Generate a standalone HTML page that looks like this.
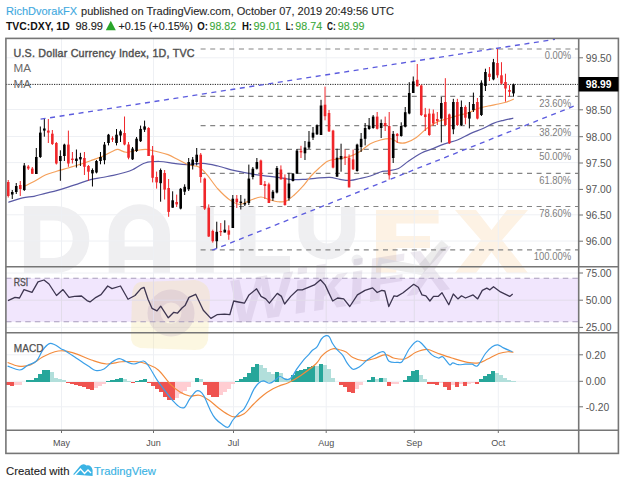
<!DOCTYPE html>
<html><head><meta charset="utf-8"><style>
html,body{margin:0;padding:0;background:#fff;}
body{width:624px;height:486px;overflow:hidden;position:relative;font-family:"Liberation Sans",sans-serif;}
svg{position:absolute;left:0;top:0;}
</style></head><body>
<svg width="624" height="486" viewBox="0 0 624 486" font-family="Liberation Sans, sans-serif">

<g font-size="10.5" stroke-width="0.12">
<text x="6" y="14.7" stroke="#3fa9e0" fill="#3fa9e0" textLength="71" lengthAdjust="spacingAndGlyphs">RichDvorakFX</text>
<text x="81" y="14.7" fill="#2a2a2a" stroke="#2a2a2a" textLength="313" lengthAdjust="spacingAndGlyphs">published on TradingView.com, October 07, 2019 20:49:56 UTC</text>
</g>
<g font-size="10.5">
<text x="6" y="30" fill="#111" font-weight="bold" textLength="63.7" lengthAdjust="spacingAndGlyphs">TVC:DXY, 1D</text>
<text x="75.4" y="30" fill="#222" stroke="#222" stroke-width="0.12" textLength="27.6" lengthAdjust="spacingAndGlyphs">98.99</text>
<path d="M105.8 30.2 L110.8 20.8 L115.8 30.2 Z" fill="#2aa52a"/>
<text x="118.5" y="30" fill="#222" stroke="#222" stroke-width="0.12" textLength="74.3" lengthAdjust="spacingAndGlyphs">+0.15 (+0.15%)</text>
<text x="197.2" y="30" fill="#111" font-weight="bold" textLength="10.7" lengthAdjust="spacingAndGlyphs">O:</text>
<text x="209.6" y="30" fill="#3aa83a" stroke="#3aa83a" stroke-width="0.1" textLength="26.5" lengthAdjust="spacingAndGlyphs">98.82</text>
<text x="241.9" y="30" fill="#111" font-weight="bold" textLength="10.1" lengthAdjust="spacingAndGlyphs">H:</text>
<text x="253.5" y="30" fill="#3aa83a" stroke="#3aa83a" stroke-width="0.1" textLength="27.4" lengthAdjust="spacingAndGlyphs">99.01</text>
<text x="285.8" y="30" fill="#111" font-weight="bold" textLength="7.5" lengthAdjust="spacingAndGlyphs">L:</text>
<text x="295.3" y="30" fill="#3aa83a" stroke="#3aa83a" stroke-width="0.1" textLength="26.8" lengthAdjust="spacingAndGlyphs">98.74</text>
<text x="327" y="30" fill="#111" font-weight="bold" textLength="8.7" lengthAdjust="spacingAndGlyphs">C:</text>
<text x="337.7" y="30" fill="#3aa83a" stroke="#3aa83a" stroke-width="0.1" textLength="26.8" lengthAdjust="spacingAndGlyphs">98.99</text>
</g>

<g fill="#efeff1">
<path fill-rule="evenodd" d="M23.9 205.9 H56 A33.3 33.5 0 0 1 56 272.9 H23.9 Z M40.25 220.4 H54 A18.7 18.8 0 0 1 54 258 H40.25 Z"/>
<path fill-rule="evenodd" d="M108.7 273 V235 A30.65 30.65 0 0 1 170 235 V273 Z M124.6 246.5 V233.4 A14.4 14.4 0 0 1 153.4 233.4 V246.5 Z M124.6 260 V273 H153.4 V260 Z"/>
<rect x="195.9" y="206" width="17.9" height="67"/>
<path d="M240.3 206 H255.5 V256 H290 V273 H240.3 Z"/>
<path fill-rule="evenodd" d="M298.4 207 H313.7 V230 A13.6 13.6 0 0 0 340.9 230 V207 H355.3 V231 A28.45 28.45 0 0 1 298.4 231 Z"/>
<circle cx="357" cy="260" r="5.5"/>
</g>
<g fill="#fdf2e4">
<path d="M376 210 H438.6 V223.6 H396.3 V236 H430 V248 H396.3 V273 H376 Z"/>
<path d="M455 210 H476 L491.5 230 L507 210 H528 L502 240 L528 273 H507 L491.5 252 L476 273 H455 L481 240 Z"/>
</g>
<path d="M378 262 L420 270 L445 243" fill="none" stroke="#ececec" stroke-width="9"/>

<g stroke="#eef0f4" stroke-width="1">
<line x1="6" y1="57.8" x2="578" y2="57.8"/>
<line x1="6" y1="109.5" x2="578" y2="109.5"/>
<line x1="6" y1="136.5" x2="578" y2="136.5"/>
<line x1="6" y1="162.6" x2="578" y2="162.6"/>
<line x1="6" y1="189.4" x2="578" y2="189.4"/>
<line x1="6" y1="214.8" x2="578" y2="214.8"/>
<line x1="6" y1="241" x2="578" y2="241"/>
<line x1="6" y1="273" x2="578" y2="273"/>
<line x1="6" y1="300.2" x2="578" y2="300.2"/>
<line x1="6" y1="327.4" x2="578" y2="327.4"/>
<line x1="6" y1="354.8" x2="578" y2="354.8"/>
<line x1="6" y1="381.3" x2="578" y2="381.3"/>
<line x1="6" y1="406.8" x2="578" y2="406.8"/>
<line x1="61.5" y1="39" x2="61.5" y2="430"/>
<line x1="153.5" y1="39" x2="153.5" y2="430"/>
<line x1="233.5" y1="39" x2="233.5" y2="430"/>
<line x1="326.2" y1="39" x2="326.2" y2="430"/>
<line x1="414.3" y1="39" x2="414.3" y2="430"/>
<line x1="498.3" y1="39" x2="498.3" y2="430"/>
</g>
<rect x="6" y="278.3" width="572" height="43.5" fill="#f1e6fd"/>
<path d="M140 282 L195 280 Q210 282 210 298 L208 340 Q206 350 195 350 L140 348 Q130 346 131 335 L132 295 Q133 283 140 282 Z" fill="#f6e39a" opacity="0.3"/>
<circle cx="171" cy="313" r="17" fill="none" stroke="#8a6aa8" stroke-width="13" opacity="0.15"/>
<text x="0" y="0" transform="translate(232 324) rotate(-9)" font-size="62" font-weight="bold" font-style="italic" fill="#7a6090" opacity="0.13" textLength="225" lengthAdjust="spacingAndGlyphs">WikiFX</text>
<line x1="6" y1="300.2" x2="578" y2="300.2" stroke="#e2dcea" stroke-width="1"/>
<line x1="61.5" y1="278.3" x2="61.5" y2="321.8" stroke="#e2dcea" stroke-width="1"/>
<line x1="153.5" y1="278.3" x2="153.5" y2="321.8" stroke="#e2dcea" stroke-width="1"/>
<line x1="233.5" y1="278.3" x2="233.5" y2="321.8" stroke="#e2dcea" stroke-width="1"/>
<line x1="326.2" y1="278.3" x2="326.2" y2="321.8" stroke="#e2dcea" stroke-width="1"/>
<line x1="414.3" y1="278.3" x2="414.3" y2="321.8" stroke="#e2dcea" stroke-width="1"/>
<line x1="498.3" y1="278.3" x2="498.3" y2="321.8" stroke="#e2dcea" stroke-width="1"/>
<g stroke="#a99dbd" stroke-width="1.1" stroke-dasharray="5.5 4.1">
<line x1="6" y1="278.3" x2="578" y2="278.3"/><line x1="6" y1="321.8" x2="578" y2="321.8"/>
</g>
<g stroke="#858585" stroke-width="1.2" stroke-dasharray="5 4.6">
<line x1="200.6" y1="49" x2="578" y2="49"/>
<line x1="200.6" y1="96.4" x2="578" y2="96.4"/>
<line x1="200.6" y1="125.6" x2="578" y2="125.6"/>
<line x1="200.6" y1="149.4" x2="578" y2="149.4"/>
<line x1="200.6" y1="173.3" x2="578" y2="173.3"/>
<line x1="200.6" y1="206.5" x2="578" y2="206.5"/>
<line x1="200.6" y1="249.8" x2="578" y2="249.8"/>
</g>
<g font-size="10.5" fill="#808080">
<text x="544.7" y="59.4" textLength="26.5" lengthAdjust="spacingAndGlyphs">0.00%</text>
<text x="539.2" y="106.80000000000001" textLength="32" lengthAdjust="spacingAndGlyphs">23.60%</text>
<text x="539.2" y="136.0" textLength="32" lengthAdjust="spacingAndGlyphs">38.20%</text>
<text x="539.2" y="159.8" textLength="32" lengthAdjust="spacingAndGlyphs">50.00%</text>
<text x="539.2" y="183.70000000000002" textLength="32" lengthAdjust="spacingAndGlyphs">61.80%</text>
<text x="539.2" y="216.9" textLength="32" lengthAdjust="spacingAndGlyphs">78.60%</text>
<text x="533.7" y="260.2" textLength="37.5" lengthAdjust="spacingAndGlyphs">100.00%</text>
</g>
<line x1="6" y1="84.4" x2="578" y2="84.4" stroke="#222" stroke-width="1" stroke-dasharray="1.2 1.2"/>
<path d="M8.40 202.40 C10.77 201.63 18.33 198.82 22.60 197.80 C26.87 196.78 30.22 197.05 34.00 196.30 C37.78 195.55 41.53 194.25 45.30 193.30 C49.07 192.35 52.82 191.62 56.60 190.60 C60.38 189.58 64.22 188.40 68.00 187.20 C71.78 186.00 75.53 184.65 79.30 183.40 C83.07 182.15 86.82 180.68 90.60 179.70 C94.38 178.72 98.22 178.22 102.00 177.50 C105.78 176.78 109.48 176.23 113.25 175.40 C117.02 174.57 121.39 173.43 124.60 172.50 C127.81 171.57 129.10 171.38 132.50 169.80 C135.90 168.22 140.48 164.38 145.00 163.00 C149.52 161.62 154.77 161.45 159.60 161.50 C164.43 161.55 169.48 162.78 174.00 163.30 C178.52 163.82 181.87 164.60 186.70 164.60 C191.53 164.60 197.78 163.07 203.00 163.30 C208.22 163.53 213.08 164.85 218.00 166.00 C222.92 167.15 228.83 169.25 232.50 170.20 C236.17 171.15 236.67 171.03 240.00 171.70 C243.33 172.37 248.33 173.52 252.50 174.20 C256.67 174.88 260.83 175.28 265.00 175.80 C269.17 176.32 273.33 176.70 277.50 177.30 C281.67 177.90 285.83 179.05 290.00 179.40 C294.17 179.75 298.33 179.58 302.50 179.40 C306.67 179.22 310.48 178.65 315.00 178.30 C319.52 177.95 325.43 177.12 329.60 177.30 C333.77 177.48 336.53 178.88 340.00 179.40 C343.47 179.92 347.07 180.55 350.40 180.40 C353.73 180.25 356.68 179.23 360.00 178.50 C363.32 177.77 366.88 177.08 370.30 176.00 C373.72 174.92 377.52 172.87 380.50 172.00 C383.48 171.13 385.20 171.38 388.20 170.80 C391.20 170.22 395.08 170.13 398.50 168.50 C401.92 166.87 404.87 163.58 408.70 161.00 C412.53 158.42 417.65 155.00 421.50 153.00 C425.35 151.00 427.95 150.53 431.80 149.00 C435.65 147.47 440.33 145.30 444.60 143.80 C448.87 142.30 453.12 141.70 457.40 140.00 C461.68 138.30 466.03 135.52 470.30 133.60 C474.57 131.68 479.17 130.22 483.00 128.50 C486.83 126.78 489.87 124.67 493.30 123.30 C496.73 121.93 500.27 121.15 503.60 120.30 C506.93 119.45 511.68 118.55 513.30 118.20" fill="none" stroke="#5a5aa5" stroke-width="1.25"/>
<path d="M24.90 186.00 C26.42 185.25 30.60 183.33 34.00 181.50 C37.40 179.67 41.53 176.70 45.30 175.00 C49.07 173.30 52.82 172.47 56.60 171.30 C60.38 170.13 64.22 169.12 68.00 168.00 C71.78 166.88 75.53 165.77 79.30 164.55 C83.07 163.33 86.82 162.02 90.60 160.70 C94.38 159.38 98.22 158.22 102.00 156.60 C105.78 154.98 110.62 152.20 113.25 151.00 C115.88 149.80 115.63 149.18 117.80 149.40 C119.97 149.62 123.10 152.13 126.25 152.30 C129.40 152.47 133.41 150.88 136.70 150.40 C139.99 149.92 142.70 149.22 146.00 149.40 C149.30 149.58 152.83 150.63 156.50 151.50 C160.17 152.37 164.37 153.22 168.00 154.60 C171.63 155.98 174.84 158.07 178.30 159.80 C181.76 161.53 185.30 163.80 188.75 165.00 C192.20 166.20 195.88 165.27 199.00 167.00 C202.12 168.73 204.33 171.73 207.50 175.40 C210.67 179.07 214.18 184.83 218.00 189.00 C221.82 193.17 226.73 197.83 230.40 200.40 C234.07 202.97 236.67 204.43 240.00 204.40 C243.33 204.37 246.93 201.43 250.40 200.20 C253.87 198.97 257.67 197.10 260.80 197.00 C263.93 196.90 266.42 198.82 269.20 199.60 C271.98 200.38 274.73 201.42 277.50 201.70 C280.27 201.97 283.02 202.37 285.80 201.25 C288.58 200.13 291.42 197.43 294.20 195.00 C296.98 192.57 299.73 189.82 302.50 186.70 C305.27 183.57 308.02 179.37 310.80 176.25 C313.58 173.13 316.42 170.50 319.20 168.00 C321.98 165.50 324.73 162.72 327.50 161.25 C330.27 159.78 333.02 159.74 335.80 159.20 C338.58 158.66 341.42 158.63 344.20 158.00 C346.98 157.37 349.87 156.48 352.50 155.40 C355.13 154.32 357.03 153.43 360.00 151.50 C362.97 149.57 366.88 145.72 370.30 143.80 C373.72 141.88 377.08 140.85 380.50 140.00 C383.92 139.15 387.80 138.27 390.80 138.70 C393.80 139.13 395.97 141.95 398.50 142.60 C401.03 143.25 403.02 143.47 406.00 142.60 C408.98 141.73 412.95 139.75 416.40 137.40 C419.85 135.05 423.27 131.07 426.70 128.50 C430.13 125.93 433.62 123.63 437.00 122.00 C440.38 120.37 443.60 119.77 447.00 118.70 C450.40 117.63 453.95 116.55 457.40 115.60 C460.85 114.65 464.27 114.18 467.70 113.00 C471.13 111.82 474.58 109.67 478.00 108.50 C481.42 107.33 484.78 106.75 488.20 106.00 C491.62 105.25 495.53 104.62 498.50 104.00 C501.47 103.38 503.45 103.13 506.00 102.30 C508.55 101.47 512.50 99.55 513.80 99.00" fill="none" stroke="#f5a05a" stroke-width="1.15"/>
<g>
<line x1="8.24" y1="180.0" x2="8.24" y2="197.5" stroke="#f0262a" stroke-width="1"/>
<rect x="6.94" y="182.0" width="2.6" height="14.00" fill="#f0262a"/>
<line x1="12.25" y1="190.0" x2="12.25" y2="199.0" stroke="#000" stroke-width="1"/>
<rect x="10.95" y="192.0" width="2.6" height="2.50" fill="#000"/>
<line x1="16.26" y1="183.0" x2="16.26" y2="194.0" stroke="#000" stroke-width="1"/>
<rect x="14.96" y="186.0" width="2.6" height="6.00" fill="#000"/>
<line x1="20.27" y1="181.0" x2="20.27" y2="196.0" stroke="#f0262a" stroke-width="1"/>
<rect x="18.97" y="185.0" width="2.6" height="4.00" fill="#f0262a"/>
<line x1="24.28" y1="163.0" x2="24.28" y2="191.0" stroke="#000" stroke-width="1"/>
<rect x="22.98" y="165.5" width="2.6" height="24.50" fill="#000"/>
<line x1="28.29" y1="165.0" x2="28.29" y2="170.0" stroke="#f0262a" stroke-width="1"/>
<rect x="26.99" y="166.5" width="2.6" height="2.00" fill="#f0262a"/>
<line x1="32.30" y1="167.0" x2="32.30" y2="174.0" stroke="#f0262a" stroke-width="1"/>
<rect x="31.00" y="168.6" width="2.6" height="5.20" fill="#f0262a"/>
<line x1="36.31" y1="148.0" x2="36.31" y2="174.0" stroke="#000" stroke-width="1"/>
<rect x="35.01" y="157.0" width="2.6" height="17.00" fill="#000"/>
<line x1="40.32" y1="126.5" x2="40.32" y2="158.0" stroke="#000" stroke-width="1"/>
<rect x="39.02" y="132.6" width="2.6" height="24.40" fill="#000"/>
<line x1="44.33" y1="118.6" x2="44.33" y2="136.7" stroke="#000" stroke-width="1"/>
<rect x="43.03" y="128.5" width="2.6" height="2.10" fill="#000"/>
<line x1="48.34" y1="119.0" x2="48.34" y2="143.0" stroke="#f0262a" stroke-width="1"/>
<rect x="47.04" y="130.6" width="2.6" height="2.00" fill="#f0262a"/>
<line x1="52.35" y1="130.0" x2="52.35" y2="145.0" stroke="#f0262a" stroke-width="1"/>
<rect x="51.05" y="133.7" width="2.6" height="10.30" fill="#f0262a"/>
<line x1="56.36" y1="142.0" x2="56.36" y2="164.5" stroke="#f0262a" stroke-width="1"/>
<rect x="55.06" y="143.0" width="2.6" height="20.50" fill="#f0262a"/>
<line x1="60.37" y1="150.3" x2="60.37" y2="180.8" stroke="#000" stroke-width="1"/>
<rect x="59.07" y="156.0" width="2.6" height="5.00" fill="#000"/>
<line x1="64.38" y1="143.7" x2="64.38" y2="161.0" stroke="#000" stroke-width="1"/>
<rect x="63.08" y="144.6" width="2.6" height="11.40" fill="#000"/>
<line x1="68.39" y1="130.6" x2="68.39" y2="166.8" stroke="#f0262a" stroke-width="1"/>
<rect x="67.09" y="144.6" width="2.6" height="18.90" fill="#f0262a"/>
<line x1="72.40" y1="152.0" x2="72.40" y2="163.5" stroke="#f0262a" stroke-width="1"/>
<rect x="71.10" y="158.6" width="2.6" height="1.40" fill="#f0262a"/>
<line x1="76.41" y1="149.5" x2="76.41" y2="167.6" stroke="#000" stroke-width="1"/>
<rect x="75.11" y="158.6" width="2.6" height="2.40" fill="#000"/>
<line x1="80.42" y1="152.8" x2="80.42" y2="166.0" stroke="#000" stroke-width="1"/>
<rect x="79.12" y="157.0" width="2.6" height="2.40" fill="#000"/>
<line x1="84.43" y1="152.0" x2="84.43" y2="175.0" stroke="#f0262a" stroke-width="1"/>
<rect x="83.13" y="158.0" width="2.6" height="8.80" fill="#f0262a"/>
<line x1="88.44" y1="165.0" x2="88.44" y2="180.8" stroke="#f0262a" stroke-width="1"/>
<rect x="87.14" y="166.0" width="2.6" height="5.70" fill="#f0262a"/>
<line x1="92.45" y1="168.4" x2="92.45" y2="186.5" stroke="#000" stroke-width="1"/>
<rect x="91.15" y="170.0" width="2.6" height="3.40" fill="#000"/>
<line x1="96.46" y1="160.0" x2="96.46" y2="173.4" stroke="#000" stroke-width="1"/>
<rect x="95.16" y="161.0" width="2.6" height="11.50" fill="#000"/>
<line x1="100.47" y1="152.0" x2="100.47" y2="164.3" stroke="#000" stroke-width="1"/>
<rect x="99.17" y="157.0" width="2.6" height="4.00" fill="#000"/>
<line x1="104.48" y1="142.0" x2="104.48" y2="164.3" stroke="#000" stroke-width="1"/>
<rect x="103.18" y="144.6" width="2.6" height="15.60" fill="#000"/>
<line x1="108.49" y1="133.9" x2="108.49" y2="145.4" stroke="#000" stroke-width="1"/>
<rect x="107.19" y="134.7" width="2.6" height="8.30" fill="#000"/>
<line x1="112.50" y1="136.3" x2="112.50" y2="142.0" stroke="#f0262a" stroke-width="1"/>
<rect x="111.20" y="138.3" width="2.6" height="1.30" fill="#f0262a"/>
<line x1="116.51" y1="129.0" x2="116.51" y2="145.4" stroke="#000" stroke-width="1"/>
<rect x="115.21" y="134.7" width="2.6" height="8.30" fill="#000"/>
<line x1="120.52" y1="129.7" x2="120.52" y2="142.0" stroke="#000" stroke-width="1"/>
<rect x="119.22" y="131.3" width="2.6" height="4.20" fill="#000"/>
<line x1="124.53" y1="116.5" x2="124.53" y2="145.3" stroke="#f0262a" stroke-width="1"/>
<rect x="123.23" y="133.0" width="2.6" height="11.50" fill="#f0262a"/>
<line x1="128.54" y1="142.0" x2="128.54" y2="159.3" stroke="#f0262a" stroke-width="1"/>
<rect x="127.24" y="144.5" width="2.6" height="13.20" fill="#f0262a"/>
<line x1="132.55" y1="147.0" x2="132.55" y2="160.0" stroke="#000" stroke-width="1"/>
<rect x="131.25" y="148.6" width="2.6" height="10.70" fill="#000"/>
<line x1="136.56" y1="137.0" x2="136.56" y2="152.0" stroke="#000" stroke-width="1"/>
<rect x="135.26" y="138.7" width="2.6" height="12.30" fill="#000"/>
<line x1="140.57" y1="125.6" x2="140.57" y2="142.0" stroke="#000" stroke-width="1"/>
<rect x="139.27" y="128.9" width="2.6" height="12.30" fill="#000"/>
<line x1="144.58" y1="120.6" x2="144.58" y2="132.0" stroke="#000" stroke-width="1"/>
<rect x="143.28" y="126.4" width="2.6" height="3.30" fill="#000"/>
<line x1="148.59" y1="127.2" x2="148.59" y2="156.0" stroke="#f0262a" stroke-width="1"/>
<rect x="147.29" y="128.0" width="2.6" height="28.00" fill="#f0262a"/>
<line x1="152.60" y1="146.0" x2="152.60" y2="182.4" stroke="#f0262a" stroke-width="1"/>
<rect x="151.30" y="155.4" width="2.6" height="22.40" fill="#f0262a"/>
<line x1="156.61" y1="171.6" x2="156.61" y2="188.6" stroke="#f0262a" stroke-width="1"/>
<rect x="155.31" y="177.0" width="2.6" height="5.40" fill="#f0262a"/>
<line x1="160.62" y1="168.5" x2="160.62" y2="201.7" stroke="#000" stroke-width="1"/>
<rect x="159.32" y="170.0" width="2.6" height="13.20" fill="#000"/>
<line x1="164.63" y1="170.0" x2="164.63" y2="199.5" stroke="#f0262a" stroke-width="1"/>
<rect x="163.33" y="173.0" width="2.6" height="16.60" fill="#f0262a"/>
<line x1="168.64" y1="179.0" x2="168.64" y2="216.8" stroke="#f0262a" stroke-width="1"/>
<rect x="167.34" y="188.0" width="2.6" height="23.90" fill="#f0262a"/>
<line x1="172.65" y1="191.3" x2="172.65" y2="207.7" stroke="#000" stroke-width="1"/>
<rect x="171.35" y="200.3" width="2.6" height="7.40" fill="#000"/>
<line x1="176.66" y1="194.6" x2="176.66" y2="207.0" stroke="#f0262a" stroke-width="1"/>
<rect x="175.36" y="202.0" width="2.6" height="2.40" fill="#f0262a"/>
<line x1="180.67" y1="188.0" x2="180.67" y2="209.4" stroke="#000" stroke-width="1"/>
<rect x="179.37" y="188.8" width="2.6" height="19.80" fill="#000"/>
<line x1="184.68" y1="184.3" x2="184.68" y2="195.0" stroke="#000" stroke-width="1"/>
<rect x="183.38" y="186.8" width="2.6" height="4.90" fill="#000"/>
<line x1="188.69" y1="158.0" x2="188.69" y2="191.0" stroke="#000" stroke-width="1"/>
<rect x="187.39" y="162.0" width="2.6" height="27.30" fill="#000"/>
<line x1="192.70" y1="157.0" x2="192.70" y2="169.5" stroke="#000" stroke-width="1"/>
<rect x="191.40" y="159.6" width="2.6" height="5.80" fill="#000"/>
<line x1="196.71" y1="148.0" x2="196.71" y2="165.4" stroke="#000" stroke-width="1"/>
<rect x="195.41" y="154.7" width="2.6" height="7.30" fill="#000"/>
<line x1="200.72" y1="153.0" x2="200.72" y2="182.7" stroke="#f0262a" stroke-width="1"/>
<rect x="199.42" y="154.7" width="2.6" height="22.30" fill="#f0262a"/>
<line x1="204.73" y1="177.7" x2="204.73" y2="210.0" stroke="#f0262a" stroke-width="1"/>
<rect x="203.43" y="178.6" width="2.6" height="30.00" fill="#f0262a"/>
<line x1="208.74" y1="204.4" x2="208.74" y2="237.0" stroke="#f0262a" stroke-width="1"/>
<rect x="207.44" y="207.7" width="2.6" height="28.80" fill="#f0262a"/>
<line x1="212.75" y1="229.7" x2="212.75" y2="242.6" stroke="#f0262a" stroke-width="1"/>
<rect x="211.45" y="231.0" width="2.6" height="10.20" fill="#f0262a"/>
<line x1="216.76" y1="221.7" x2="216.76" y2="248.4" stroke="#000" stroke-width="1"/>
<rect x="215.46" y="231.8" width="2.6" height="9.40" fill="#000"/>
<line x1="220.77" y1="223.0" x2="220.77" y2="236.0" stroke="#f0262a" stroke-width="1"/>
<rect x="219.47" y="231.0" width="2.6" height="1.20" fill="#f0262a"/>
<line x1="224.78" y1="220.3" x2="224.78" y2="232.5" stroke="#000" stroke-width="1"/>
<rect x="223.48" y="229.7" width="2.6" height="2.80" fill="#000"/>
<line x1="228.79" y1="225.3" x2="228.79" y2="239.8" stroke="#f0262a" stroke-width="1"/>
<rect x="227.49" y="230.4" width="2.6" height="4.30" fill="#f0262a"/>
<line x1="232.80" y1="195.0" x2="232.80" y2="228.0" stroke="#000" stroke-width="1"/>
<rect x="231.50" y="198.7" width="2.6" height="29.30" fill="#000"/>
<line x1="236.81" y1="195.0" x2="236.81" y2="208.0" stroke="#f0262a" stroke-width="1"/>
<rect x="235.51" y="198.7" width="2.6" height="3.60" fill="#f0262a"/>
<line x1="240.82" y1="195.0" x2="240.82" y2="209.5" stroke="#000" stroke-width="1"/>
<rect x="239.52" y="201.6" width="2.6" height="1.40" fill="#000"/>
<line x1="244.83" y1="198.7" x2="244.83" y2="206.0" stroke="#000" stroke-width="1"/>
<rect x="243.53" y="203.0" width="2.6" height="1.50" fill="#000"/>
<line x1="248.84" y1="164.6" x2="248.84" y2="205.0" stroke="#000" stroke-width="1"/>
<rect x="247.54" y="178.6" width="2.6" height="24.40" fill="#000"/>
<line x1="252.85" y1="167.0" x2="252.85" y2="179.4" stroke="#000" stroke-width="1"/>
<rect x="251.55" y="168.7" width="2.6" height="8.30" fill="#000"/>
<line x1="256.86" y1="158.0" x2="256.86" y2="169.5" stroke="#000" stroke-width="1"/>
<rect x="255.56" y="162.0" width="2.6" height="6.70" fill="#000"/>
<line x1="260.87" y1="159.6" x2="260.87" y2="185.0" stroke="#f0262a" stroke-width="1"/>
<rect x="259.57" y="160.5" width="2.6" height="24.50" fill="#f0262a"/>
<line x1="264.88" y1="181.0" x2="264.88" y2="199.0" stroke="#f0262a" stroke-width="1"/>
<rect x="263.58" y="184.0" width="2.6" height="2.00" fill="#f0262a"/>
<line x1="268.89" y1="182.7" x2="268.89" y2="203.0" stroke="#f0262a" stroke-width="1"/>
<rect x="267.59" y="184.3" width="2.6" height="18.70" fill="#f0262a"/>
<line x1="272.90" y1="190.0" x2="272.90" y2="200.8" stroke="#000" stroke-width="1"/>
<rect x="271.60" y="191.7" width="2.6" height="6.60" fill="#000"/>
<line x1="276.91" y1="166.0" x2="276.91" y2="193.4" stroke="#000" stroke-width="1"/>
<rect x="275.61" y="168.0" width="2.6" height="24.50" fill="#000"/>
<line x1="280.92" y1="165.4" x2="280.92" y2="179.4" stroke="#f0262a" stroke-width="1"/>
<rect x="279.62" y="169.5" width="2.6" height="9.90" fill="#f0262a"/>
<line x1="284.93" y1="174.4" x2="284.93" y2="205.7" stroke="#f0262a" stroke-width="1"/>
<rect x="283.63" y="177.7" width="2.6" height="27.30" fill="#f0262a"/>
<line x1="288.94" y1="172.8" x2="288.94" y2="200.8" stroke="#000" stroke-width="1"/>
<rect x="287.64" y="183.5" width="2.6" height="14.80" fill="#000"/>
<line x1="292.95" y1="173.0" x2="292.95" y2="181.5" stroke="#000" stroke-width="1"/>
<rect x="291.65" y="173.6" width="2.6" height="7.40" fill="#000"/>
<line x1="296.96" y1="149.0" x2="296.96" y2="173.6" stroke="#000" stroke-width="1"/>
<rect x="295.66" y="150.6" width="2.6" height="23.00" fill="#000"/>
<line x1="300.97" y1="145.8" x2="300.97" y2="158.0" stroke="#f0262a" stroke-width="1"/>
<rect x="299.67" y="150.8" width="2.6" height="1.60" fill="#f0262a"/>
<line x1="304.98" y1="141.0" x2="304.98" y2="160.0" stroke="#000" stroke-width="1"/>
<rect x="303.68" y="147.5" width="2.6" height="5.80" fill="#000"/>
<line x1="308.99" y1="131.0" x2="308.99" y2="149.0" stroke="#000" stroke-width="1"/>
<rect x="307.69" y="141.7" width="2.6" height="5.80" fill="#000"/>
<line x1="313.00" y1="127.0" x2="313.00" y2="140.0" stroke="#000" stroke-width="1"/>
<rect x="311.70" y="132.7" width="2.6" height="4.90" fill="#000"/>
<line x1="317.01" y1="124.4" x2="317.01" y2="135.0" stroke="#000" stroke-width="1"/>
<rect x="315.71" y="125.3" width="2.6" height="9.00" fill="#000"/>
<line x1="321.02" y1="99.8" x2="321.02" y2="135.0" stroke="#000" stroke-width="1"/>
<rect x="319.72" y="105.5" width="2.6" height="29.50" fill="#000"/>
<line x1="325.03" y1="86.6" x2="325.03" y2="120.3" stroke="#f0262a" stroke-width="1"/>
<rect x="323.73" y="104.7" width="2.6" height="11.50" fill="#f0262a"/>
<line x1="329.04" y1="110.0" x2="329.04" y2="132.0" stroke="#f0262a" stroke-width="1"/>
<rect x="327.74" y="113.0" width="2.6" height="18.40" fill="#f0262a"/>
<line x1="333.05" y1="129.8" x2="333.05" y2="168.4" stroke="#f0262a" stroke-width="1"/>
<rect x="331.75" y="130.6" width="2.6" height="37.00" fill="#f0262a"/>
<line x1="337.06" y1="148.7" x2="337.06" y2="176.7" stroke="#000" stroke-width="1"/>
<rect x="335.76" y="157.7" width="2.6" height="19.00" fill="#000"/>
<line x1="341.07" y1="143.7" x2="341.07" y2="171.7" stroke="#000" stroke-width="1"/>
<rect x="339.77" y="156.0" width="2.6" height="3.40" fill="#000"/>
<line x1="345.08" y1="149.5" x2="345.08" y2="165.0" stroke="#f0262a" stroke-width="1"/>
<rect x="343.78" y="156.5" width="2.6" height="1.50" fill="#f0262a"/>
<line x1="349.09" y1="154.4" x2="349.09" y2="187.4" stroke="#f0262a" stroke-width="1"/>
<rect x="347.79" y="157.7" width="2.6" height="29.70" fill="#f0262a"/>
<line x1="353.10" y1="149.5" x2="353.10" y2="170.0" stroke="#f0262a" stroke-width="1"/>
<rect x="351.80" y="159.4" width="2.6" height="9.90" fill="#f0262a"/>
<line x1="357.11" y1="143.7" x2="357.11" y2="171.7" stroke="#000" stroke-width="1"/>
<rect x="355.81" y="144.6" width="2.6" height="26.40" fill="#000"/>
<line x1="361.12" y1="133.0" x2="361.12" y2="152.0" stroke="#000" stroke-width="1"/>
<rect x="359.82" y="138.8" width="2.6" height="8.20" fill="#000"/>
<line x1="365.13" y1="123.0" x2="365.13" y2="145.4" stroke="#000" stroke-width="1"/>
<rect x="363.83" y="128.0" width="2.6" height="10.80" fill="#000"/>
<line x1="369.14" y1="118.0" x2="369.14" y2="129.8" stroke="#000" stroke-width="1"/>
<rect x="367.84" y="125.6" width="2.6" height="3.40" fill="#000"/>
<line x1="373.15" y1="115.0" x2="373.15" y2="128.8" stroke="#000" stroke-width="1"/>
<rect x="371.85" y="116.6" width="2.6" height="11.40" fill="#000"/>
<line x1="377.16" y1="112.0" x2="377.16" y2="129.5" stroke="#f0262a" stroke-width="1"/>
<rect x="375.86" y="116.6" width="2.6" height="12.20" fill="#f0262a"/>
<line x1="381.17" y1="119.5" x2="381.17" y2="138.0" stroke="#000" stroke-width="1"/>
<rect x="379.87" y="123.0" width="2.6" height="5.00" fill="#000"/>
<line x1="385.18" y1="116.6" x2="385.18" y2="131.0" stroke="#f0262a" stroke-width="1"/>
<rect x="383.88" y="123.0" width="2.6" height="3.00" fill="#f0262a"/>
<line x1="389.19" y1="112.0" x2="389.19" y2="179.6" stroke="#f0262a" stroke-width="1"/>
<rect x="387.89" y="126.0" width="2.6" height="49.30" fill="#f0262a"/>
<line x1="393.20" y1="131.0" x2="393.20" y2="163.0" stroke="#000" stroke-width="1"/>
<rect x="391.90" y="133.9" width="2.6" height="24.10" fill="#000"/>
<line x1="397.21" y1="133.0" x2="397.21" y2="143.0" stroke="#f0262a" stroke-width="1"/>
<rect x="395.91" y="133.9" width="2.6" height="2.10" fill="#f0262a"/>
<line x1="401.22" y1="122.3" x2="401.22" y2="136.7" stroke="#000" stroke-width="1"/>
<rect x="399.92" y="126.0" width="2.6" height="10.00" fill="#000"/>
<line x1="405.23" y1="107.0" x2="405.23" y2="127.4" stroke="#000" stroke-width="1"/>
<rect x="403.93" y="112.2" width="2.6" height="14.50" fill="#000"/>
<line x1="409.24" y1="82.2" x2="409.24" y2="114.3" stroke="#000" stroke-width="1"/>
<rect x="407.94" y="93.0" width="2.6" height="20.50" fill="#000"/>
<line x1="413.25" y1="76.5" x2="413.25" y2="93.0" stroke="#000" stroke-width="1"/>
<rect x="411.95" y="81.4" width="2.6" height="11.60" fill="#000"/>
<line x1="417.26" y1="64.0" x2="417.26" y2="86.3" stroke="#f0262a" stroke-width="1"/>
<rect x="415.96" y="79.8" width="2.6" height="6.50" fill="#f0262a"/>
<line x1="421.27" y1="84.7" x2="421.27" y2="116.0" stroke="#f0262a" stroke-width="1"/>
<rect x="419.97" y="85.5" width="2.6" height="29.50" fill="#f0262a"/>
<line x1="425.28" y1="107.9" x2="425.28" y2="131.0" stroke="#f0262a" stroke-width="1"/>
<rect x="423.98" y="114.4" width="2.6" height="2.60" fill="#f0262a"/>
<line x1="429.29" y1="108.7" x2="429.29" y2="135.8" stroke="#f0262a" stroke-width="1"/>
<rect x="427.99" y="113.6" width="2.6" height="21.40" fill="#f0262a"/>
<line x1="433.30" y1="109.5" x2="433.30" y2="126.0" stroke="#f0262a" stroke-width="1"/>
<rect x="432.00" y="113.6" width="2.6" height="9.90" fill="#f0262a"/>
<line x1="437.31" y1="112.0" x2="437.31" y2="125.0" stroke="#f0262a" stroke-width="1"/>
<rect x="436.01" y="119.0" width="2.6" height="2.00" fill="#f0262a"/>
<line x1="441.32" y1="97.0" x2="441.32" y2="142.4" stroke="#000" stroke-width="1"/>
<rect x="440.02" y="103.0" width="2.6" height="15.60" fill="#000"/>
<line x1="445.33" y1="78.2" x2="445.33" y2="126.0" stroke="#f0262a" stroke-width="1"/>
<rect x="444.03" y="102.0" width="2.6" height="23.00" fill="#f0262a"/>
<line x1="449.34" y1="113.6" x2="449.34" y2="144.0" stroke="#f0262a" stroke-width="1"/>
<rect x="448.04" y="114.4" width="2.6" height="28.90" fill="#f0262a"/>
<line x1="453.35" y1="98.8" x2="453.35" y2="134.2" stroke="#000" stroke-width="1"/>
<rect x="452.05" y="102.0" width="2.6" height="27.30" fill="#000"/>
<line x1="457.36" y1="98.8" x2="457.36" y2="126.0" stroke="#f0262a" stroke-width="1"/>
<rect x="456.06" y="102.0" width="2.6" height="23.00" fill="#f0262a"/>
<line x1="461.37" y1="100.5" x2="461.37" y2="126.0" stroke="#000" stroke-width="1"/>
<rect x="460.07" y="107.0" width="2.6" height="18.00" fill="#000"/>
<line x1="465.38" y1="105.4" x2="465.38" y2="124.3" stroke="#f0262a" stroke-width="1"/>
<rect x="464.08" y="107.0" width="2.6" height="10.70" fill="#f0262a"/>
<line x1="469.39" y1="102.0" x2="469.39" y2="128.4" stroke="#000" stroke-width="1"/>
<rect x="468.09" y="112.0" width="2.6" height="6.60" fill="#000"/>
<line x1="473.40" y1="92.6" x2="473.40" y2="112.0" stroke="#000" stroke-width="1"/>
<rect x="472.10" y="104.0" width="2.6" height="6.00" fill="#000"/>
<line x1="477.41" y1="98.0" x2="477.41" y2="119.4" stroke="#f0262a" stroke-width="1"/>
<rect x="476.11" y="102.0" width="2.6" height="16.60" fill="#f0262a"/>
<line x1="481.42" y1="80.3" x2="481.42" y2="116.0" stroke="#000" stroke-width="1"/>
<rect x="480.12" y="82.7" width="2.6" height="32.30" fill="#000"/>
<line x1="485.43" y1="68.7" x2="485.43" y2="91.0" stroke="#000" stroke-width="1"/>
<rect x="484.13" y="72.0" width="2.6" height="14.00" fill="#000"/>
<line x1="489.44" y1="67.0" x2="489.44" y2="81.0" stroke="#f0262a" stroke-width="1"/>
<rect x="488.14" y="73.7" width="2.6" height="3.30" fill="#f0262a"/>
<line x1="493.45" y1="58.9" x2="493.45" y2="80.3" stroke="#000" stroke-width="1"/>
<rect x="492.15" y="62.2" width="2.6" height="17.20" fill="#000"/>
<line x1="497.46" y1="48.2" x2="497.46" y2="77.8" stroke="#f0262a" stroke-width="1"/>
<rect x="496.16" y="63.0" width="2.6" height="12.30" fill="#f0262a"/>
<line x1="501.47" y1="62.2" x2="501.47" y2="84.4" stroke="#f0262a" stroke-width="1"/>
<rect x="500.17" y="75.3" width="2.6" height="8.30" fill="#f0262a"/>
<line x1="505.48" y1="73.7" x2="505.48" y2="101.7" stroke="#f0262a" stroke-width="1"/>
<rect x="504.18" y="82.0" width="2.6" height="6.50" fill="#f0262a"/>
<line x1="509.49" y1="85.2" x2="509.49" y2="96.7" stroke="#f0262a" stroke-width="1"/>
<rect x="508.19" y="90.0" width="2.6" height="1.80" fill="#f0262a"/>
<line x1="513.50" y1="83.6" x2="513.50" y2="96.7" stroke="#000" stroke-width="1"/>
<rect x="512.20" y="84.4" width="2.6" height="9.00" fill="#000"/>
</g>
<g stroke="#5c5cde" stroke-width="1.35" stroke-dasharray="5 4.6" fill="none">
<line x1="40.6" y1="119.2" x2="555" y2="39.3"/>
<line x1="212.3" y1="250.2" x2="578" y2="104.5"/>
</g>
<polyline points="8.0,300.6 15.0,297.3 19.5,298.0 24.0,289.6 32.0,292.4 38.0,281.9 44.0,280.0 49.0,284.0 56.5,295.5 63.0,289.6 69.0,297.3 74.5,296.3 81.5,296.0 87.0,300.6 90.0,301.9 96.0,297.3 101.0,294.7 107.7,286.0 112.0,288.6 120.5,286.0 128.0,299.3 135.0,295.5 141.0,288.6 144.0,287.3 148.0,299.3 152.0,308.3 157.0,310.9 160.7,306.2 168.3,317.8 173.8,312.3 177.4,313.2 182.0,308.0 185.0,305.6 189.0,297.4 195.7,294.3 203.3,310.2 210.9,318.4 217.0,314.7 224.6,314.1 229.8,314.7 233.7,301.0 238.3,302.0 244.4,303.2 249.0,294.9 256.6,288.8 261.1,296.4 265.7,298.9 269.4,303.2 277.3,293.4 281.5,296.4 284.6,304.0 290.7,296.4 297.7,289.8 302.3,289.8 314.4,284.9 320.5,279.7 325.1,284.9 332.7,301.0 337.6,298.0 343.7,298.9 349.8,306.5 357.4,294.9 365.0,290.4 372.6,287.9 377.2,292.5 381.8,290.4 384.8,291.0 388.8,306.5 394.0,295.8 397.0,296.4 403.1,292.8 413.7,284.3 418.3,287.3 422.0,294.9 425.9,295.8 429.9,301.0 433.5,296.4 438.1,296.4 442.0,292.8 448.8,304.7 453.3,294.0 457.9,298.9 461.5,295.8 465.5,298.0 473.1,294.9 477.7,298.9 482.3,290.4 486.8,288.2 489.9,289.8 493.5,286.7 500.5,291.9 509.7,296.4 512.7,294.0" fill="none" stroke="#3d3550" stroke-width="1.3" stroke-linejoin="round"/>
<g shape-rendering="crispEdges">
<rect x="6.23" y="381.50" width="4.01" height="3.50" fill="#ef5350"/>
<rect x="10.24" y="381.50" width="4.01" height="4.50" fill="#ef5350"/>
<rect x="14.25" y="381.50" width="4.01" height="3.50" fill="#ffcdd2"/>
<rect x="18.26" y="381.50" width="4.01" height="3.10" fill="#ffcdd2"/>
<rect x="26.28" y="380.20" width="4.01" height="1.30" fill="#26a69a"/>
<rect x="30.29" y="380.20" width="4.01" height="1.30" fill="#26a69a"/>
<rect x="34.30" y="377.70" width="4.01" height="3.80" fill="#26a69a"/>
<rect x="38.31" y="373.50" width="4.01" height="8.00" fill="#26a69a"/>
<rect x="42.32" y="370.00" width="4.01" height="11.50" fill="#26a69a"/>
<rect x="46.33" y="370.00" width="4.01" height="11.50" fill="#26a69a"/>
<rect x="50.34" y="371.50" width="4.01" height="10.00" fill="#b2dfdb"/>
<rect x="54.35" y="378.30" width="4.01" height="3.20" fill="#b2dfdb"/>
<rect x="58.36" y="379.40" width="4.01" height="2.10" fill="#b2dfdb"/>
<rect x="62.37" y="380.20" width="4.01" height="1.30" fill="#b2dfdb"/>
<rect x="66.38" y="381.50" width="4.01" height="1.00" fill="#ef5350"/>
<rect x="70.39" y="381.50" width="4.01" height="2.00" fill="#ef5350"/>
<rect x="74.40" y="381.50" width="4.01" height="3.10" fill="#ef5350"/>
<rect x="78.41" y="381.50" width="4.01" height="4.10" fill="#ef5350"/>
<rect x="82.42" y="381.50" width="4.01" height="5.20" fill="#ef5350"/>
<rect x="86.43" y="381.50" width="4.01" height="7.25" fill="#ef5350"/>
<rect x="90.44" y="381.50" width="4.01" height="8.70" fill="#ef5350"/>
<rect x="94.45" y="381.50" width="4.01" height="6.60" fill="#ffcdd2"/>
<rect x="98.46" y="381.50" width="4.01" height="4.50" fill="#ffcdd2"/>
<rect x="102.47" y="381.50" width="4.01" height="2.00" fill="#ffcdd2"/>
<rect x="106.48" y="380.80" width="4.01" height="0.70" fill="#26a69a"/>
<rect x="110.49" y="380.20" width="4.01" height="1.30" fill="#26a69a"/>
<rect x="114.50" y="378.75" width="4.01" height="2.75" fill="#26a69a"/>
<rect x="118.51" y="377.70" width="4.01" height="3.80" fill="#26a69a"/>
<rect x="122.52" y="379.20" width="4.01" height="2.30" fill="#b2dfdb"/>
<rect x="126.53" y="380.80" width="4.01" height="0.70" fill="#b2dfdb"/>
<rect x="130.54" y="381.50" width="4.01" height="1.00" fill="#ef5350"/>
<rect x="134.55" y="381.00" width="4.01" height="0.50" fill="#26a69a"/>
<rect x="138.56" y="380.40" width="4.01" height="1.10" fill="#26a69a"/>
<rect x="142.57" y="379.40" width="4.01" height="2.10" fill="#26a69a"/>
<rect x="146.58" y="381.50" width="4.01" height="1.80" fill="#ef5350"/>
<rect x="150.59" y="381.50" width="4.01" height="4.50" fill="#ef5350"/>
<rect x="154.60" y="381.50" width="4.01" height="7.70" fill="#ef5350"/>
<rect x="158.61" y="381.50" width="4.01" height="10.80" fill="#ef5350"/>
<rect x="162.62" y="381.50" width="4.01" height="15.00" fill="#ef5350"/>
<rect x="166.63" y="381.50" width="4.01" height="18.50" fill="#ef5350"/>
<rect x="170.64" y="381.50" width="4.01" height="18.10" fill="#ef5350"/>
<rect x="174.65" y="381.50" width="4.01" height="16.00" fill="#ffcdd2"/>
<rect x="178.66" y="381.50" width="4.01" height="12.90" fill="#ffcdd2"/>
<rect x="182.67" y="381.50" width="4.01" height="9.75" fill="#ffcdd2"/>
<rect x="186.68" y="381.50" width="4.01" height="5.50" fill="#ffcdd2"/>
<rect x="194.70" y="377.70" width="4.01" height="3.80" fill="#26a69a"/>
<rect x="198.71" y="379.20" width="4.01" height="2.30" fill="#b2dfdb"/>
<rect x="202.72" y="381.50" width="4.01" height="3.50" fill="#ef5350"/>
<rect x="206.73" y="381.50" width="4.01" height="13.90" fill="#ef5350"/>
<rect x="210.74" y="381.50" width="4.01" height="15.00" fill="#ef5350"/>
<rect x="214.75" y="381.50" width="4.01" height="15.00" fill="#ef5350"/>
<rect x="218.76" y="381.50" width="4.01" height="13.90" fill="#ffcdd2"/>
<rect x="222.77" y="381.50" width="4.01" height="10.80" fill="#ffcdd2"/>
<rect x="226.78" y="381.50" width="4.01" height="7.70" fill="#ffcdd2"/>
<rect x="230.79" y="381.50" width="4.01" height="2.50" fill="#ffcdd2"/>
<rect x="234.80" y="380.80" width="4.01" height="0.70" fill="#26a69a"/>
<rect x="238.81" y="379.20" width="4.01" height="2.30" fill="#26a69a"/>
<rect x="242.82" y="376.70" width="4.01" height="4.80" fill="#26a69a"/>
<rect x="246.83" y="372.50" width="4.01" height="9.00" fill="#26a69a"/>
<rect x="250.84" y="367.30" width="4.01" height="14.20" fill="#26a69a"/>
<rect x="254.85" y="363.75" width="4.01" height="17.75" fill="#26a69a"/>
<rect x="258.86" y="365.00" width="4.01" height="16.50" fill="#b2dfdb"/>
<rect x="262.87" y="368.10" width="4.01" height="13.40" fill="#b2dfdb"/>
<rect x="266.88" y="372.30" width="4.01" height="9.20" fill="#b2dfdb"/>
<rect x="270.89" y="374.40" width="4.01" height="7.10" fill="#b2dfdb"/>
<rect x="274.90" y="372.30" width="4.01" height="9.20" fill="#26a69a"/>
<rect x="278.91" y="373.30" width="4.01" height="8.20" fill="#b2dfdb"/>
<rect x="282.92" y="377.50" width="4.01" height="4.00" fill="#b2dfdb"/>
<rect x="286.93" y="378.50" width="4.01" height="3.00" fill="#b2dfdb"/>
<rect x="290.94" y="375.40" width="4.01" height="6.10" fill="#26a69a"/>
<rect x="294.95" y="371.25" width="4.01" height="10.25" fill="#26a69a"/>
<rect x="298.96" y="370.20" width="4.01" height="11.30" fill="#26a69a"/>
<rect x="302.97" y="369.20" width="4.01" height="12.30" fill="#26a69a"/>
<rect x="306.98" y="367.10" width="4.01" height="14.40" fill="#26a69a"/>
<rect x="310.99" y="366.00" width="4.01" height="15.50" fill="#26a69a"/>
<rect x="315.00" y="366.00" width="4.01" height="15.50" fill="#b2dfdb"/>
<rect x="319.01" y="364.00" width="4.01" height="17.50" fill="#26a69a"/>
<rect x="323.02" y="365.00" width="4.01" height="16.50" fill="#b2dfdb"/>
<rect x="327.03" y="369.20" width="4.01" height="12.30" fill="#b2dfdb"/>
<rect x="331.04" y="377.50" width="4.01" height="4.00" fill="#b2dfdb"/>
<rect x="339.06" y="381.50" width="4.01" height="3.30" fill="#ef5350"/>
<rect x="343.07" y="381.50" width="4.01" height="5.40" fill="#ef5350"/>
<rect x="347.08" y="381.50" width="4.01" height="10.60" fill="#ef5350"/>
<rect x="351.09" y="381.50" width="4.01" height="11.60" fill="#ef5350"/>
<rect x="355.10" y="381.50" width="4.01" height="7.50" fill="#ffcdd2"/>
<rect x="359.11" y="381.50" width="4.01" height="3.30" fill="#ffcdd2"/>
<rect x="367.13" y="379.60" width="4.01" height="1.90" fill="#26a69a"/>
<rect x="371.14" y="377.10" width="4.01" height="4.40" fill="#26a69a"/>
<rect x="375.15" y="378.50" width="4.01" height="3.00" fill="#b2dfdb"/>
<rect x="379.16" y="377.50" width="4.01" height="4.00" fill="#26a69a"/>
<rect x="383.17" y="377.70" width="4.01" height="3.80" fill="#b2dfdb"/>
<rect x="387.18" y="381.50" width="4.01" height="4.50" fill="#ef5350"/>
<rect x="391.19" y="381.50" width="4.01" height="2.90" fill="#ffcdd2"/>
<rect x="395.20" y="381.50" width="4.01" height="2.25" fill="#ffcdd2"/>
<rect x="399.21" y="381.50" width="4.01" height="0.70" fill="#ffcdd2"/>
<rect x="403.22" y="380.00" width="4.01" height="1.50" fill="#26a69a"/>
<rect x="407.23" y="375.90" width="4.01" height="5.60" fill="#26a69a"/>
<rect x="411.24" y="371.00" width="4.01" height="10.50" fill="#26a69a"/>
<rect x="415.25" y="370.30" width="4.01" height="11.20" fill="#26a69a"/>
<rect x="419.26" y="374.80" width="4.01" height="6.70" fill="#b2dfdb"/>
<rect x="423.27" y="378.60" width="4.01" height="2.90" fill="#b2dfdb"/>
<rect x="427.28" y="381.50" width="4.01" height="2.25" fill="#ef5350"/>
<rect x="431.29" y="381.50" width="4.01" height="2.90" fill="#ef5350"/>
<rect x="435.30" y="381.50" width="4.01" height="3.40" fill="#ef5350"/>
<rect x="439.31" y="381.50" width="4.01" height="1.10" fill="#ffcdd2"/>
<rect x="443.32" y="381.50" width="4.01" height="5.60" fill="#ef5350"/>
<rect x="447.33" y="381.50" width="4.01" height="8.30" fill="#ef5350"/>
<rect x="451.34" y="381.50" width="4.01" height="3.40" fill="#ffcdd2"/>
<rect x="455.35" y="381.50" width="4.01" height="5.60" fill="#ef5350"/>
<rect x="459.36" y="381.50" width="4.01" height="2.25" fill="#ffcdd2"/>
<rect x="463.37" y="381.50" width="4.01" height="4.00" fill="#ef5350"/>
<rect x="467.38" y="381.50" width="4.01" height="2.25" fill="#ffcdd2"/>
<rect x="471.39" y="381.50" width="4.01" height="1.10" fill="#ffcdd2"/>
<rect x="475.40" y="381.50" width="4.01" height="2.25" fill="#ef5350"/>
<rect x="479.41" y="379.30" width="4.01" height="2.20" fill="#26a69a"/>
<rect x="483.42" y="375.90" width="4.01" height="5.60" fill="#26a69a"/>
<rect x="487.43" y="373.65" width="4.01" height="7.85" fill="#26a69a"/>
<rect x="491.44" y="371.40" width="4.01" height="10.10" fill="#26a69a"/>
<rect x="495.45" y="373.20" width="4.01" height="8.30" fill="#b2dfdb"/>
<rect x="499.46" y="375.45" width="4.01" height="6.05" fill="#b2dfdb"/>
<rect x="503.47" y="378.10" width="4.01" height="3.40" fill="#b2dfdb"/>
<rect x="507.48" y="380.40" width="4.01" height="1.10" fill="#b2dfdb"/>
<rect x="511.49" y="381.00" width="4.01" height="0.50" fill="#b2dfdb"/>
</g>
<path d="M7.60 362.50 C9.38 363.10 14.48 365.70 18.30 366.10 C22.12 366.50 26.45 366.42 30.50 364.90 C34.55 363.38 38.55 359.18 42.60 357.00 C46.65 354.82 51.25 352.82 54.80 351.80 C58.35 350.78 60.35 350.55 63.90 350.90 C67.45 351.25 71.52 352.38 76.10 353.90 C80.68 355.42 86.32 358.32 91.40 360.00 C96.48 361.68 101.53 363.70 106.60 364.00 C111.67 364.30 116.73 362.17 121.80 361.80 C126.87 361.43 132.85 361.43 137.00 361.80 C141.15 362.17 143.15 362.63 146.70 364.00 C150.25 365.37 154.33 366.60 158.30 370.00 C162.27 373.40 166.88 380.73 170.50 384.40 C174.12 388.07 176.82 390.07 180.00 392.00 C183.18 393.93 186.40 395.47 189.60 396.00 C192.80 396.53 196.00 394.53 199.20 395.20 C202.40 395.87 205.58 397.87 208.80 400.00 C212.02 402.13 215.30 405.58 218.50 408.00 C221.70 410.42 225.33 413.02 228.00 414.50 C230.67 415.98 231.82 417.04 234.50 416.90 C237.18 416.76 240.90 415.80 244.10 413.65 C247.30 411.50 250.50 407.07 253.70 404.00 C256.90 400.93 260.08 397.73 263.30 395.20 C266.52 392.67 270.22 390.40 273.00 388.80 C275.78 387.20 277.45 386.62 280.00 385.60 C282.55 384.58 284.83 384.40 288.30 382.70 C291.77 381.00 296.22 378.52 300.80 375.40 C305.38 372.28 312.37 367.17 315.80 364.00 C319.23 360.83 319.53 358.50 321.40 356.40 C323.27 354.30 324.93 352.70 327.00 351.40 C329.07 350.10 331.73 348.88 333.80 348.60 C335.87 348.32 337.35 349.13 339.40 349.70 C341.45 350.27 343.85 350.68 346.10 352.00 C348.35 353.32 350.03 356.13 352.90 357.60 C355.77 359.07 359.82 360.61 363.30 360.80 C366.78 360.99 370.03 359.78 373.75 358.75 C377.47 357.72 382.31 354.73 385.60 354.60 C388.89 354.48 390.32 357.27 393.50 358.00 C396.68 358.73 400.97 359.95 404.70 359.00 C408.43 358.05 412.17 353.90 415.90 352.30 C419.63 350.70 423.37 349.20 427.10 349.40 C430.83 349.60 434.18 352.07 438.30 353.50 C442.42 354.93 446.93 356.52 451.80 358.00 C456.67 359.48 463.02 361.58 467.50 362.40 C471.98 363.22 475.33 363.45 478.70 362.90 C482.07 362.35 484.33 360.67 487.70 359.10 C491.07 357.53 495.53 354.73 498.90 353.50 C502.27 352.27 505.47 351.90 507.90 351.70 C510.33 351.50 512.57 352.20 513.50 352.30" fill="none" stroke="#f38b3c" stroke-width="1.15"/>
<path d="M7.60 366.10 C9.63 366.75 16.50 370.10 19.80 370.00 C23.10 369.90 24.62 367.00 27.40 365.50 C30.18 364.00 33.97 363.53 36.50 361.00 C39.03 358.47 40.47 353.20 42.60 350.30 C44.73 347.40 47.27 344.52 49.30 343.60 C51.33 342.68 52.87 343.95 54.80 344.80 C56.73 345.65 59.12 347.68 60.90 348.70 C62.68 349.72 62.97 349.37 65.50 350.90 C68.03 352.43 72.30 355.37 76.10 357.90 C79.90 360.43 85.03 364.00 88.30 366.10 C91.57 368.20 93.08 370.02 95.70 370.50 C98.32 370.98 101.28 370.42 104.00 369.00 C106.72 367.58 109.45 363.73 112.00 362.00 C114.55 360.27 116.97 358.68 119.30 358.60 C121.63 358.52 123.55 360.60 126.00 361.50 C128.45 362.40 131.08 364.08 134.00 364.00 C136.92 363.92 141.04 360.62 143.50 361.00 C145.96 361.38 146.50 363.12 148.75 366.25 C151.00 369.38 154.22 375.63 157.00 379.80 C159.78 383.97 162.61 387.60 165.40 391.25 C168.19 394.90 171.32 399.04 173.75 401.70 C176.18 404.36 178.16 406.28 180.00 407.20 C181.84 408.12 183.20 408.53 184.80 407.20 C186.40 405.87 187.73 401.87 189.60 399.20 C191.47 396.53 194.27 392.53 196.00 391.20 C197.73 389.87 198.67 390.40 200.00 391.20 C201.33 392.00 202.27 392.80 204.00 396.00 C205.73 399.20 208.52 406.65 210.40 410.40 C212.28 414.15 213.42 416.23 215.30 418.50 C217.18 420.77 219.58 422.53 221.70 424.00 C223.82 425.47 226.13 427.97 228.00 427.30 C229.87 426.63 231.02 422.40 232.90 420.00 C234.78 417.60 237.43 414.77 239.30 412.90 C241.17 411.03 242.50 410.95 244.10 408.80 C245.70 406.65 247.30 403.20 248.90 400.00 C250.50 396.80 252.10 392.40 253.70 389.60 C255.30 386.80 256.90 384.67 258.50 383.20 C260.10 381.73 261.43 380.80 263.30 380.80 C265.17 380.80 267.62 383.40 269.70 383.20 C271.78 383.00 274.08 380.72 275.80 379.60 C277.52 378.48 278.26 376.50 280.00 376.50 C281.74 376.50 284.33 379.43 286.25 379.60 C288.17 379.77 289.76 379.23 291.50 377.50 C293.24 375.77 294.80 371.98 296.70 369.20 C298.60 366.42 301.02 363.12 302.90 360.80 C304.78 358.48 306.42 357.05 308.00 355.30 C309.58 353.55 310.90 351.70 312.40 350.30 C313.90 348.90 315.50 348.78 317.00 346.90 C318.50 345.02 319.90 340.87 321.40 339.00 C322.90 337.13 324.68 336.07 326.00 335.70 C327.32 335.33 328.20 335.50 329.30 336.80 C330.40 338.10 331.30 341.35 332.60 343.50 C333.90 345.65 335.41 347.73 337.10 349.70 C338.79 351.67 341.07 353.05 342.75 355.30 C344.43 357.55 345.51 360.88 347.20 363.20 C348.89 365.52 350.90 368.55 352.90 369.20 C354.90 369.85 356.77 368.67 359.20 367.10 C361.63 365.53 364.73 361.88 367.50 359.80 C370.27 357.72 373.72 355.85 375.80 354.60 C377.88 353.35 378.55 352.68 380.00 352.30 C381.45 351.92 383.00 350.80 384.50 352.30 C386.00 353.80 386.75 359.62 389.00 361.30 C391.25 362.98 395.77 362.40 398.00 362.40 C400.23 362.40 400.53 363.53 402.40 361.30 C404.27 359.07 406.77 352.37 409.20 349.00 C411.63 345.63 414.77 341.85 417.00 341.10 C419.23 340.35 420.17 342.25 422.60 344.50 C425.03 346.75 428.98 352.35 431.60 354.60 C434.22 356.85 436.43 357.63 438.30 358.00 C440.17 358.37 440.93 355.68 442.80 356.80 C444.68 357.92 447.87 363.68 449.55 364.70 C451.23 365.72 451.41 362.90 452.90 362.90 C454.39 362.90 456.43 364.48 458.50 364.70 C460.57 364.92 463.05 364.28 465.30 364.20 C467.55 364.12 469.95 363.93 472.00 364.20 C474.05 364.47 475.36 367.58 477.60 365.80 C479.84 364.02 483.02 356.68 485.45 353.50 C487.88 350.32 490.14 348.13 492.20 346.70 C494.26 345.27 495.93 344.71 497.80 344.90 C499.67 345.09 500.97 346.72 503.40 347.85 C505.83 348.98 510.90 351.06 512.40 351.70" fill="none" stroke="#3a9fe8" stroke-width="1.2"/>
<g stroke="#767676" stroke-width="1.6" fill="none">
<rect x="5.9" y="38.4" width="612.5" height="415"/>
<line x1="5.9" y1="266.7" x2="618.4" y2="266.7"/>
<line x1="5.9" y1="332.8" x2="618.4" y2="332.8"/>
<line x1="5.9" y1="430.2" x2="618.4" y2="430.2"/>
<line x1="578.7" y1="38.4" x2="578.7" y2="453.4"/>
</g>
<text x="13.5" y="57.2" font-size="10.7" fill="#505050" stroke="#505050" stroke-width="0.4" textLength="181" lengthAdjust="spacing">U.S. Dollar Currency Index, 1D, TVC</text>
<text x="13.5" y="72" font-size="10.5" fill="#6a6a6a" textLength="17.5" lengthAdjust="spacingAndGlyphs">MA</text>
<text x="13.5" y="88" font-size="10.5" fill="#6a6a6a" textLength="17.5" lengthAdjust="spacingAndGlyphs">MA</text>
<text x="13.8" y="285.5" font-size="10" fill="#505050" stroke="#505050" stroke-width="0.3" textLength="14.4" lengthAdjust="spacingAndGlyphs">RSI</text>
<text x="13.8" y="352" font-size="10.5" fill="#505050" stroke="#505050" stroke-width="0.25" textLength="29.7" lengthAdjust="spacingAndGlyphs">MACD</text>
<g stroke="#6e6e6e" stroke-width="1">
<line x1="578.7" y1="57.8" x2="583" y2="57.8"/>
<line x1="578.7" y1="109.8" x2="583" y2="109.8"/>
<line x1="578.7" y1="136.7" x2="583" y2="136.7"/>
<line x1="578.7" y1="163" x2="583" y2="163"/>
<line x1="578.7" y1="189.4" x2="583" y2="189.4"/>
<line x1="578.7" y1="215" x2="583" y2="215"/>
<line x1="578.7" y1="241.2" x2="583" y2="241.2"/>
<line x1="578.7" y1="273" x2="583" y2="273"/>
<line x1="578.7" y1="300.2" x2="583" y2="300.2"/>
<line x1="578.7" y1="327.4" x2="583" y2="327.4"/>
<line x1="578.7" y1="354.8" x2="583" y2="354.8"/>
<line x1="578.7" y1="381.3" x2="583" y2="381.3"/>
<line x1="578.7" y1="406.8" x2="583" y2="406.8"/>
<line x1="61.5" y1="430.2" x2="61.5" y2="433"/>
<line x1="153.5" y1="430.2" x2="153.5" y2="433"/>
<line x1="233.5" y1="430.2" x2="233.5" y2="433"/>
<line x1="326.2" y1="430.2" x2="326.2" y2="433"/>
<line x1="414.3" y1="430.2" x2="414.3" y2="433"/>
<line x1="498.3" y1="430.2" x2="498.3" y2="433"/>
</g>
<g font-size="10.3" fill="#555">
<text x="585.7" y="61.599999999999994">99.50</text>
<text x="585.7" y="113.6">98.50</text>
<text x="585.7" y="140.5">98.00</text>
<text x="585.7" y="166.8">97.50</text>
<text x="585.7" y="193.20000000000002">97.00</text>
<text x="585.7" y="218.8">96.50</text>
<text x="585.7" y="245.0">96.00</text>
<text x="585.7" y="276.8">75.00</text>
<text x="585.7" y="304.0">50.00</text>
<text x="585.7" y="331.2">25.00</text>
<text x="585.7" y="358.6">0.20</text>
<text x="585.7" y="385.1">0.00</text>
<text x="585.7" y="410.6">-0.20</text>
</g>
<rect x="578.7" y="77" width="39.7" height="14.5" fill="#000"/>
<text x="585.7" y="88.1" font-size="10.3" font-weight="bold" fill="#fff">98.99</text>
<g font-size="9" fill="#505050" text-anchor="middle">
<text x="61.5" y="446.2">May</text>
<text x="153.5" y="446.2">Jun</text>
<text x="233.5" y="446.2">Jul</text>
<text x="326.2" y="446.2">Aug</text>
<text x="414.3" y="446.2">Sep</text>
<text x="498.3" y="446.2">Oct</text>
</g>
<text x="6" y="475.4" font-size="11" fill="#1e1e1e" stroke="#1e1e1e" stroke-width="0.12" textLength="63.5" lengthAdjust="spacingAndGlyphs">Created with</text>
<path d="M73 474.5 L80 466 Q83 463 86.5 465.5 Q91 464.5 92.6 470 L92.6 476 Z" fill="#3bb3e4"/>
<path d="M75 475 L80.5 469 L84.5 473.5 L88 470 L91 473" fill="none" stroke="#fff" stroke-width="1.4"/>
<text x="94" y="475.4" font-size="11" fill="#3bb3e4" stroke="#3bb3e4" stroke-width="0.15" textLength="62" lengthAdjust="spacingAndGlyphs">TradingView</text>

</svg></body></html>
